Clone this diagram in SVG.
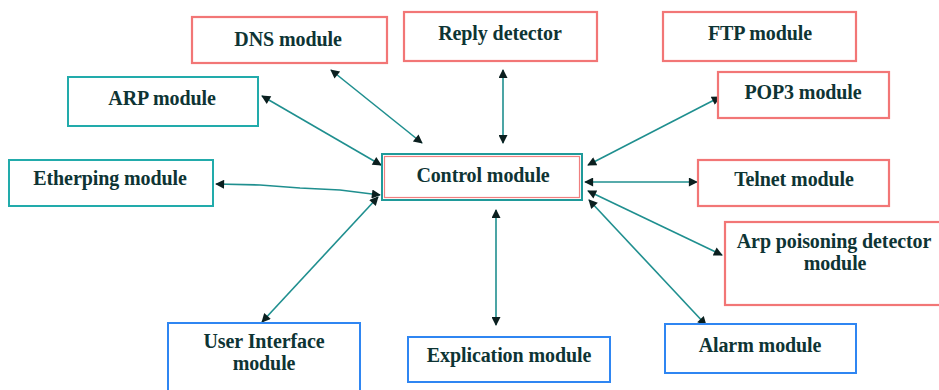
<svg xmlns="http://www.w3.org/2000/svg" width="939" height="390" viewBox="0 0 939 390">
<style>
  .red { fill: #ffffff; stroke: #f27676; stroke-width: 2.2; }
  .teal { fill: #ffffff; stroke: #22abab; stroke-width: 2; }
  .blue { fill: #ffffff; stroke: #2f86f2; stroke-width: 2; }
  .ctrl { fill: #ffffff; stroke: #1f9a9a; stroke-width: 2; }
  .ctrlin { fill: none; stroke: #f08080; stroke-width: 1.2; }
  .lbl { font-family: "Liberation Serif", "Times New Roman", serif; font-weight: bold; font-size: 20px; fill: #0e3434; text-anchor: middle; letter-spacing: -0.1px; }
  .conn { stroke: #1f8f8f; stroke-width: 1.6; fill: none; marker-start: url(#ah); marker-end: url(#ah); }
</style>
<defs>
  <marker id="ah" viewBox="0 0 10 10" refX="9" refY="5" markerWidth="11" markerHeight="9" markerUnits="userSpaceOnUse" orient="auto-start-reverse">
    <path d="M0,0 L10,5 L0,10 Z" fill="#0b1f1f"/>
  </marker>
</defs>
<rect width="939" height="390" fill="#ffffff"/>

<g id="connectors">
  <line class="conn" x1="331" y1="70" x2="422" y2="143"/>
  <line class="conn" x1="262" y1="96" x2="381" y2="165"/>
  <polyline class="conn" points="216,184 260,185 300,188 340,190 380,195"/>
  <line class="conn" x1="503" y1="70" x2="503" y2="143"/>
  <line class="conn" x1="720" y1="97" x2="588" y2="165"/>
  <line class="conn" x1="585" y1="182" x2="697" y2="182"/>
  <line class="conn" x1="588" y1="191" x2="722" y2="255"/>
  <line class="conn" x1="589" y1="200" x2="706" y2="325"/>
  <line class="conn" x1="496" y1="210" x2="496" y2="325"/>
  <line class="conn" x1="378" y1="197" x2="262" y2="322"/>
</g>

<g id="dns">
  <rect class="red" x="192" y="17" width="195" height="46"/>
  <text class="lbl" x="288" y="46">DNS module</text>
</g>
<g id="reply">
  <rect class="red" x="404" y="12" width="193" height="49"/>
  <text class="lbl" x="500" y="40">Reply detector</text>
</g>
<g id="ftp">
  <rect class="red" x="663" y="12" width="193" height="49"/>
  <text class="lbl" x="760" y="40">FTP  module</text>
</g>
<g id="pop3">
  <rect class="red" x="718" y="72" width="171" height="46"/>
  <text class="lbl" x="803" y="99">POP3 module</text>
</g>
<g id="arp">
  <rect class="teal" x="68" y="77" width="190" height="49"/>
  <text class="lbl" x="162" y="105">ARP module</text>
</g>
<g id="etherping">
  <rect class="teal" x="9" y="160" width="204" height="46"/>
  <text class="lbl" x="110" y="185">Etherping module</text>
</g>
<g id="control">
  <rect class="ctrl" x="382" y="154" width="200" height="46"/>
  <rect class="ctrlin" x="384.5" y="156.5" width="195" height="41"/>
  <text class="lbl" x="483" y="182">Control module</text>
</g>
<g id="telnet">
  <rect class="red" x="698" y="160" width="191" height="46"/>
  <text class="lbl" x="794" y="186">Telnet module</text>
</g>
<g id="arppoison">
  <rect class="red" x="725" y="222" width="230" height="83"/>
  <text class="lbl" x="834" y="248">Arp poisoning detector</text>
  <text class="lbl" x="835" y="270">module</text>
</g>
<g id="alarm">
  <rect class="blue" x="665" y="324" width="191" height="49"/>
  <text class="lbl" x="760" y="352">Alarm module</text>
</g>
<g id="explication">
  <rect class="blue" x="408" y="337" width="202" height="45"/>
  <text class="lbl" x="509" y="362">Explication module</text>
</g>
<g id="userinterface">
  <rect class="blue" x="168" y="323" width="192" height="80"/>
  <text class="lbl" x="264" y="348">User Interface</text>
  <text class="lbl" x="264" y="370">module</text>
</g>
</svg>
